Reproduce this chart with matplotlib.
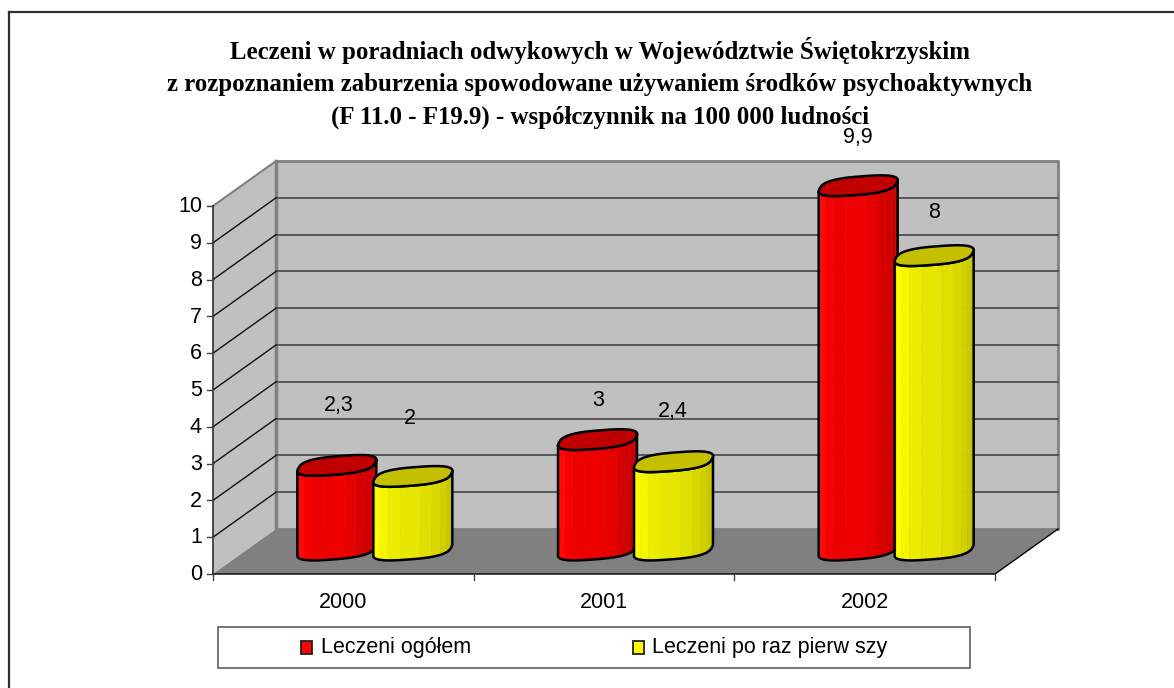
import numpy as np
import matplotlib
matplotlib.use('Agg')
import matplotlib.pyplot as plt
import matplotlib.patches as patches

W, H = 1174, 688

years = ['2000', '2001', '2002']
series_names = ['Leczeni ogółem', 'Leczeni po raz pierw szy']
ogolem = [2.3, 3.0, 9.9]
pierwszy = [2.0, 2.4, 8.0]
label_ogolem = ['2,3', '3', '9,9']
label_pierwszy = ['2', '2,4', '8']
y_ticks = [0, 1, 2, 3, 4, 5, 6, 7, 8, 9, 10]
title_lines = ['Leczeni w poradniach odwykowych w Województwie Świętokrzyskim',
               'z rozpoznaniem zaburzenia spowodowane używaniem środków psychoaktywnych',
               '(F 11.0 - F19.9) - współczynnik na 100 000 ludności']

# pixel layout of the fake 3d box
x0_px, y0_px = 213, 574
cat_px = 260.67
unit_px = 36.8
dx_px, dy_px = 63, 45

fig = plt.figure(figsize=(W/100, H/100), dpi=100)
# whole figure axes, x in categories and y in chart values
ax = fig.add_axes([0, 0, 1, 1])
ax.set_xlim(-x0_px/cat_px, (W-x0_px)/cat_px)
ax.set_ylim(-(H-y0_px)/unit_px, y0_px/unit_px)
ax.axis('off')

DX = dx_px/cat_px
DY = dy_px/unit_px
PX = 1/cat_px
PY = 1/unit_px


def px(xp):
    return (xp-x0_px)*PX


def py(yp):
    return (y0_px-yp)*PY


# frame of the crop: only top and left lines are visible
ax.plot([px(8.5), px(8.5)], [py(688), py(12)], color='#303030', lw=1.6, zorder=0)
ax.plot([px(8.5), px(1174)], [py(12), py(12)], color='#303030', lw=1.6, zorder=0)

# walls and floor
ax.add_patch(patches.Rectangle((DX, DY), 3, 10, fc='#C0C0C0', ec='#808080', lw=2, zorder=1))
ax.add_patch(patches.Polygon([(0, 0), (DX, DY), (DX, DY+10), (0, 10)], fc='#C0C0C0', ec='none', zorder=1))
ax.plot([DX, DX], [DY, DY+10], color='#808080', lw=2.5, zorder=2)
ax.plot([0, DX], [10, DY+10], color='#808080', lw=1.5, zorder=2)
ax.add_patch(patches.Polygon([(0, 0), (DX, DY), (3+DX, DY), (3, 0)], fc='#808080', ec='none', zorder=2))

for v in y_ticks[1:-1]:
    ax.plot([DX, 3+DX], [DY+v, DY+v], color='#505050', lw=1.3, zorder=2)
    ax.plot([0, DX], [v, DY+v], color='#101010', lw=1, zorder=2)

# axes lines and ticks
ax.plot([0, 0], [0, 10], color='#303030', lw=1.2, zorder=3)
ax.plot([0, 3, 3+DX], [0, 0, DY], color='black', lw=1, zorder=3)
for v in y_ticks:
    ax.plot([-6*PX, 0], [v, v], color='#404040', lw=1, zorder=3)
    ax.text(-11*PX, v-0.02, str(v), ha='right', va='center', fontsize=15.5, family='Liberation Sans', color='black')
for i in range(4):
    ax.plot([i, i], [0, -6*PY], color='#404040', lw=1, zorder=3)
for i, y in enumerate(years):
    ax.text(i+0.5, -28*PY, y, ha='center', va='center', fontsize=15.5, family='Liberation Sans')

# tilted, slightly squared oval in px, starting at its left end and running
# round the front to the right end, then over the back
tt = np.linspace(0, 2*np.pi, 361)[:-1]
cc = np.sign(np.cos(tt))*np.abs(np.cos(tt))**0.72
ss = np.sign(np.sin(tt))*np.abs(np.sin(tt))**0.72
oval_x = 38*cc + 5*ss
oval_y = 2.8*cc + 9.5*ss
oval_x = oval_x/np.abs(oval_x).max()*39.5
start = np.argmin(oval_x)
oval_x = np.roll(oval_x, -start)
oval_y = np.roll(oval_y, -start)
n_front = np.argmax(oval_x)+1


def draw_bar(xc, value, shades, top_color, z):
    # xc in categories; bar stands half way into the floor depth
    cx = xc + DX/2
    cy = DY/2 + 0.04
    fx = cx + oval_x[:n_front]*PX
    fy = cy + oval_y[:n_front]*PY
    cuts = np.linspace(0, n_front-1, len(shades)+1).astype(int)
    for k, col in enumerate(shades):
        a, b = cuts[k], cuts[k+1]+1
        ax.fill(np.r_[fx[a:b], fx[a:b][::-1]], np.r_[fy[a:b], fy[a:b][::-1]+value],
                fc=col, ec=col, lw=0.3, zorder=z)
    ax.fill(np.r_[fx, fx[::-1]], np.r_[fy, fy[::-1]+value], fc='none', ec='black',
            lw=1.8, zorder=z+0.1, joinstyle='round')
    ax.fill(cx+oval_x*PX, cy+value+oval_y*PY, fc=top_color, ec='black', lw=1.8, zorder=z+0.2)


red_shades = ['#FF0000', '#FF0808', '#F60000', '#EC0000', '#EC0000', '#E80000', '#D80000', '#D00000', '#C80000', '#C00000']
yel_shades = ['#FFFF00', '#FFFF00', '#F6F600', '#ECEC00', '#E6E600', '#E0E000', '#D8D800', '#D0D000', '#C8C800', '#C0C000']

bar_off = 38.0*PX
for i in range(3):
    draw_bar(i+0.5-bar_off, ogolem[i], red_shades, '#C00000', 5+i*2)
    draw_bar(i+0.5+bar_off, pierwszy[i], yel_shades, '#C4C000', 6+i*2)

# data labels, placed by hand as in the source
lab_font = dict(ha='center', va='center', fontsize=15.5, family='Liberation Sans', color='black', zorder=20)
lab_x_red = [339, 598, 858]
lab_y_red = [405, 401, 138]
lab_x_yel = [410, 673, 934]
lab_y_yel = [418, 412, 213]
for i in range(3):
    ax.text(px(lab_x_red[i]), py(lab_y_red[i]), label_ogolem[i], **lab_font)
    ax.text(px(lab_x_yel[i]), py(lab_y_yel[i]), label_pierwszy[i], **lab_font)

# title
for line, yp in zip(title_lines, [50, 85, 117]):
    ax.text(px(600), py(yp), line, ha='center', va='center', fontsize=17.9,
            family='Liberation Serif', weight='bold', color='black', zorder=20)

# legend box
ax.add_patch(patches.Rectangle((px(218), py(668)), 752*PX, 41*PY, fc='white', ec='#606060', lw=1.2, zorder=3))
ax.add_patch(patches.Rectangle((px(300.5), py(654)), 11*PX, 13*PY, fc='#FF0000', ec='#202020', lw=1.3, zorder=4))
ax.add_patch(patches.Rectangle((px(632.5), py(654)), 11*PX, 13*PY, fc='#FFFF00', ec='#202020', lw=1.3, zorder=4))
leg_font = dict(ha='left', va='center', fontsize=15.5, family='Liberation Sans', color='black', zorder=4)
ax.text(px(321), py(647), series_names[0], **leg_font)
ax.text(px(652), py(647), series_names[1], **leg_font)

plt.savefig('out.png', dpi=100)
